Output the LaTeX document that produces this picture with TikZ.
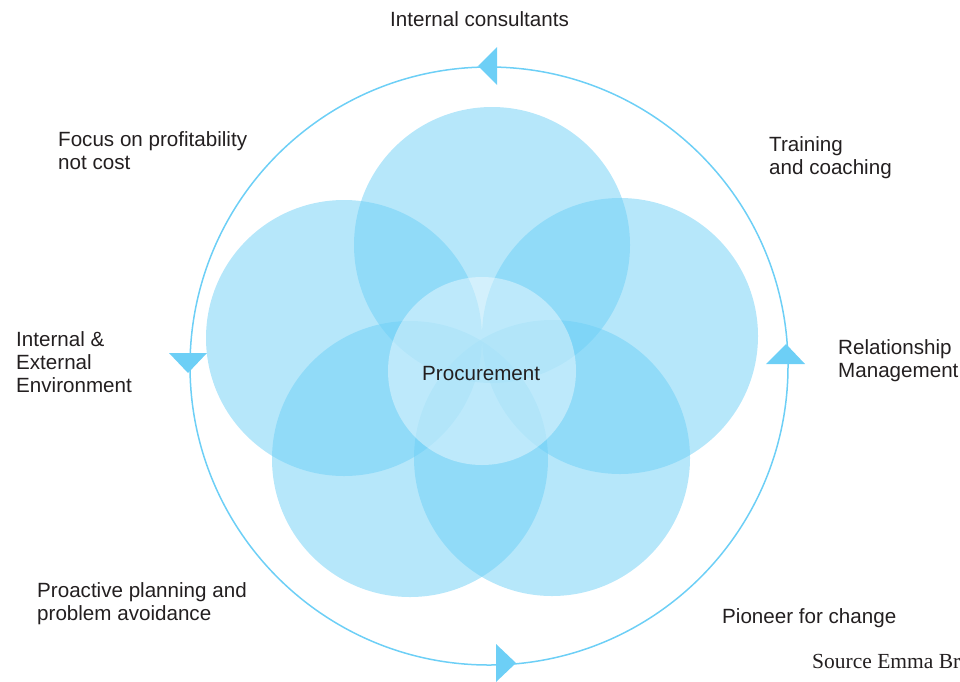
\documentclass[tikz,border=0pt]{standalone}
\usepackage{fontspec}
\setmainfont{Liberation Sans}
\newfontfamily\sourcefont{Liberation Serif}
\usepackage{xcolor}
\usetikzlibrary{positioning}
\definecolor{procblue}{RGB}{109,207,246}
\definecolor{inktext}{RGB}{35,31,32}
\tikzstyle{petal} = [circle, fill=procblue, fill opacity=0.5,
    minimum size=276pt, inner sep=0]
\tikzstyle{hub} = [circle, fill=white, fill opacity=0.4, text opacity=1,
    minimum size=188pt, inner sep=0]
\tikzstyle{ring} = [circle, draw=procblue, line width=1.5pt, minimum size=598pt, inner sep=0]
\tikzstyle{turn} = [fill=procblue]
% multi-line captions sit on the baseline of their last line
\tikzstyle{caption} = [anchor=base west, align=left, inner sep=0, text=inktext,
    font=\fontsize{20.6}{23}\selectfont]

\begin{document}
\begin{tikzpicture}[x=1pt, y=-1pt]
\useasboundingbox (0,0) rectangle (960,681);
% outer cycle
\node [ring] (ring) at (489,366) {};
\fill [turn] (478,66) -- (497,47) -- (497,85) -- cycle;
\fill [turn] (188,373) -- (169,353) -- (207,353) -- cycle;
\fill [turn] (516,663) -- (496,644) -- (496,682) -- cycle;
\fill [turn] (786,344) -- (766,364) -- (805,364) -- cycle;
% five petals
\node [petal] (petaltop) at (492,245) {};
\node [petal] (petalleft) at (344,338) {};
\node [petal] (petalright) at (620,336) {};
\node [petal] (petalbl) at (410,459) {};
\node [petal] (petalbr) at (552,458) {};
\node [hub] (hub) at (482,371) {};
\node [caption] (proc) at (422,380) {Procurement};
% labels round the ring
\node [caption] (consult) at (390,26) {Internal consultants};
\node [caption] (profit) at (58,169) {Focus on profitability\\not cost};
\node [caption] (train) at (769,174) {Training\\and coaching};
\node [caption] (relation) at (838,377) {Relationship\\Management};
\node [caption] (environ) at (16,392) {Internal \&\\External\\Environment};
\node [caption] (proactive) at (37,620) {Proactive planning and\\problem avoidance};
\node [caption] (pioneer) at (722,623) {Pioneer for change};
\node [anchor=base west, inner sep=0, text=inktext,
    font=\sourcefont\fontsize{21.5}{24}\selectfont] (source) at (812,668) {Source Emma Br};
\end{tikzpicture}
\end{document}
